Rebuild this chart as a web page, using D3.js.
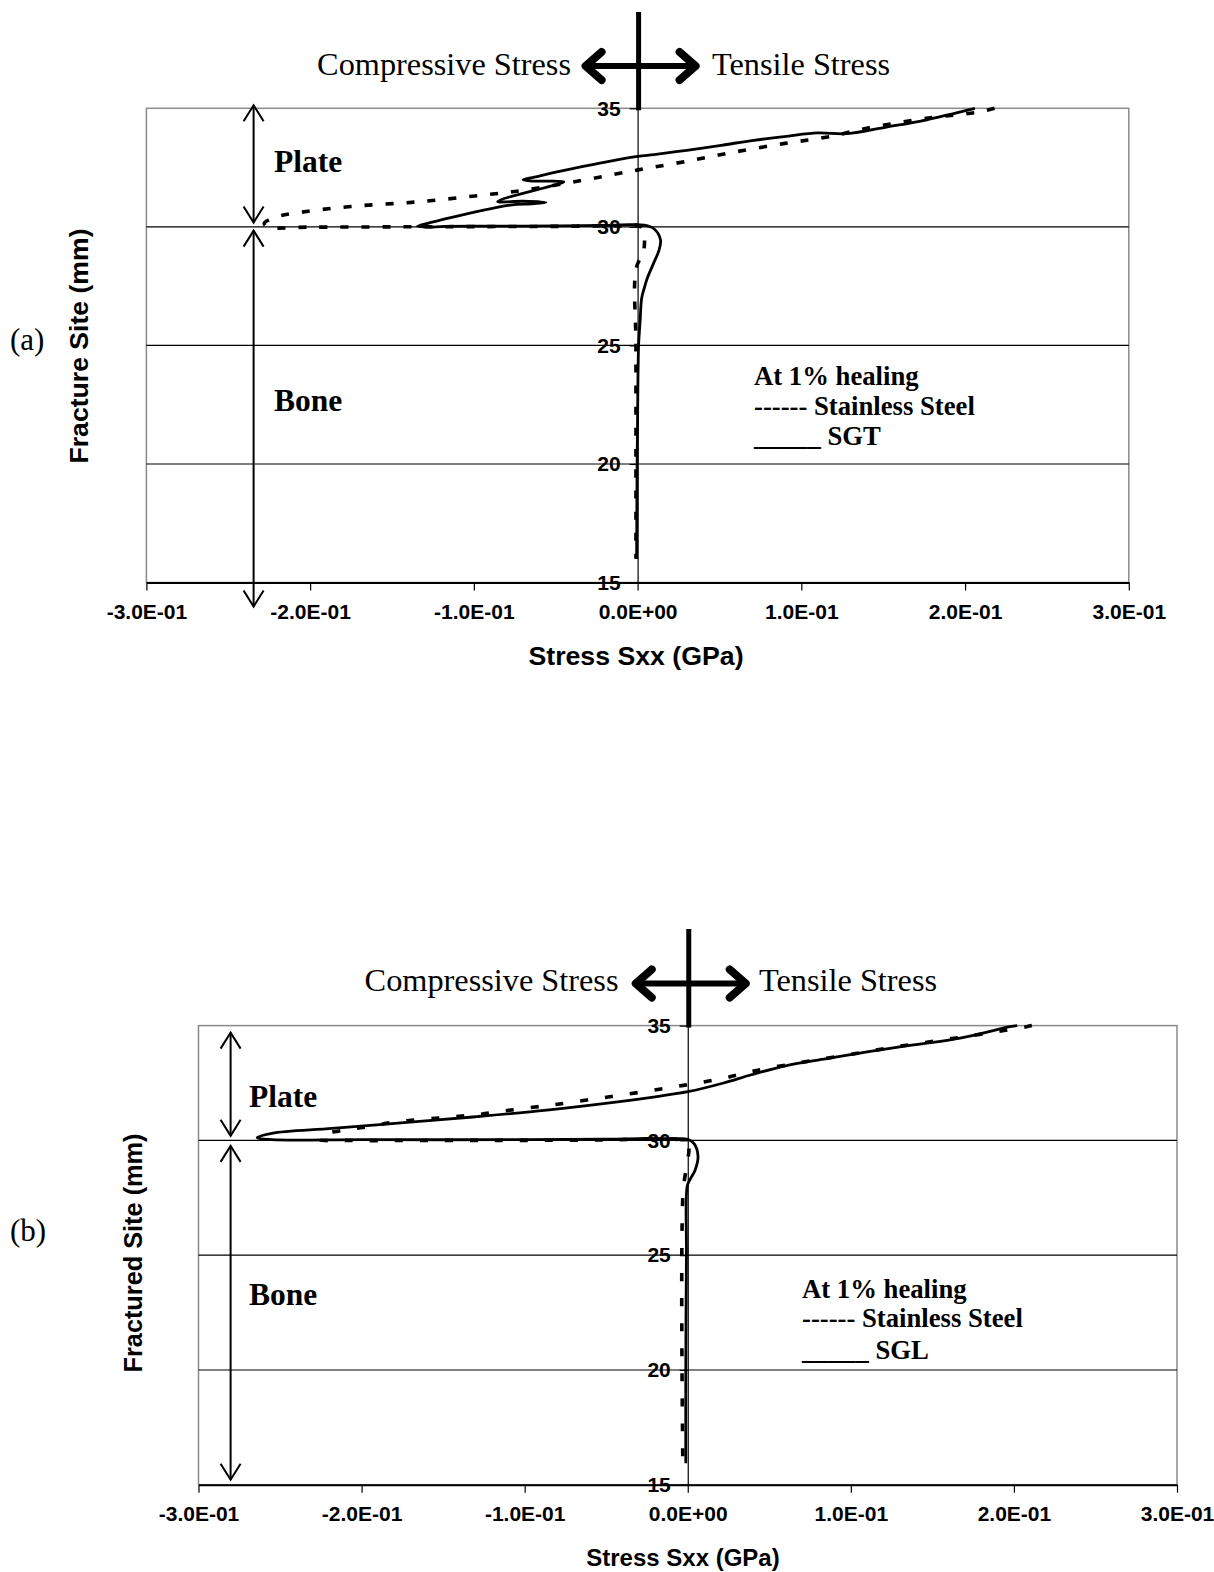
<!DOCTYPE html>
<html><head><meta charset="utf-8">
<script src="https://cdn.jsdelivr.net/npm/d3@7"></script>
<style>body{margin:0;background:#fff}svg{display:block}</style>
</head><body>
<svg id="c" width="1214" height="1572"></svg>
<script>
// ---------- data ----------
const xTicks = [-0.3, -0.2, -0.1, 0, 0.1, 0.2, 0.3];
const xTickLabels = ["-3.0E-01","-2.0E-01","-1.0E-01","0.0E+00","1.0E-01","2.0E-01","3.0E-01"];
const yTicks = [15, 20, 25, 30, 35];
const gridValues = [20, 25, 30];

// panel (a): [stress Sxx (GPa), fracture site (mm)]
const ssA = [[0.218,35.0],[0.208,34.84],[0.180,34.61],[0.140,34.16],[0.116,33.79],[0.090,33.52],[0.058,33.14],[0.031,32.78],[0.006,32.47],[-0.007,32.31],[-0.034,31.96],[-0.070,31.54],[-0.096,31.33],[-0.135,31.05],[-0.175,30.86],[-0.205,30.62],[-0.221,30.41],[-0.228,30.15],[-0.226,30.0],[-0.200,29.99],[-0.150,30.0],[-0.100,30.01],[-0.050,30.02],[-0.010,30.04],[0.002,30.0],[0.004,29.1],[-0.001,28.2],[-0.001,25.0],[-0.001,20.0],[-0.001,16.0]];
const sgtA = [[0.206,35.0],[0.193,34.78],[0.173,34.46],[0.152,34.21],[0.128,33.93],[0.110,33.96],[0.091,33.82],[0.071,33.65],[0.051,33.44],[0.030,33.23],[0.010,33.05],[0.000,32.97],[-0.023,32.69],[-0.047,32.35],[-0.063,32.10],[-0.070,31.99],[-0.066,31.94],[-0.055,31.93],[-0.045,31.90],[-0.047,31.84],[-0.0855,31.07],[-0.070,31.08],[-0.056,31.03],[-0.065,30.97],[-0.078,30.92],[-0.1325,30.07],[-0.1345,30.02],[-0.128,29.99],[-0.118,30.02],[-0.090,30.03],[-0.050,30.04],[-0.020,30.06],[-0.005,30.09],[0.004,30.07],[0.010,29.92],[0.014,29.45],[0.013,29.0],[0.010,28.5],[0.006,27.85],[0.004,27.4],[0.0025,27.0],[0.0015,26.0],[0.0006,25.0],[0.0,22.0],[-0.0003,20.0],[-0.0006,16.0]];

// panel (b)
const ssB = [[0.211,35.0],[0.2077,34.95],[0.170,34.52],[0.130,34.1],[0.090,33.63],[0.060,33.28],[0.038,32.98],[0.0227,32.72],[0.006,32.5],[-0.010,32.31],[-0.027,32.12],[-0.045,31.93],[-0.062,31.76],[-0.080,31.57],[-0.095,31.44],[-0.113,31.28],[-0.128,31.13],[-0.143,31.03],[-0.1785,30.81],[-0.194,30.62],[-0.210,30.45],[-0.2245,30.23],[-0.226,30.05],[-0.210,30.0],[-0.150,30.0],[-0.100,30.0],[-0.050,30.02],[-0.005,30.03],[0.000,29.9],[-0.003,27.6],[-0.003,15.93]];
const sglB = [[0.202,35.0],[0.1975,34.95],[0.167,34.45],[0.126,34.03],[0.085,33.56],[0.060,33.25],[0.039,32.86],[0.022,32.5],[0.0,32.12],[-0.020,31.9],[-0.043,31.68],[-0.0865,31.32],[-0.130,31.03],[-0.174,30.77],[-0.218,30.52],[-0.255,30.31],[-0.264,30.12],[-0.255,30.03],[-0.200,30.03],[-0.100,30.03],[-0.050,30.05],[-0.030,30.08],[-0.010,30.07],[0.000,30.05],[0.004,29.85],[0.0063,29.3],[0.0045,28.7],[0.0012,28.27],[-0.0004,27.98],[-0.0008,25.0],[-0.0012,20.0],[-0.0012,15.93]];

const legendA = ["At 1% healing", "------ Stainless Steel", "_____ SGT"];
const legendB = ["At 1% healing", "------ Stainless Steel", "_____ SGL"];

// ---------- drawing ----------
const SERIF = "'Liberation Serif','Times New Roman',serif";
const SANS = "'Liberation Sans',Arial,sans-serif";
const svg = d3.select("#c");
svg.append("rect").attr("width",1214).attr("height",1572).attr("fill","#fff");

function panel(o){
  const g = svg.append("g");
  const x = d3.scaleLinear().domain([-0.3,0.3]).range([o.left,o.right]);
  const y = d3.scaleLinear().domain([15,35]).range([o.bottom,o.top]);
  const x0 = x(0);

  // border
  g.append("rect").attr("x",o.left).attr("y",o.top)
    .attr("width",o.right-o.left).attr("height",o.bottom-o.top)
    .attr("fill","none").attr("stroke","#8a8a8a").attr("stroke-width",1.5);
  // gridlines
  g.selectAll(".grid").data(gridValues).join("line")
    .attr("x1",o.left).attr("x2",o.right)
    .attr("y1",d=>y(d)).attr("y2",d=>y(d))
    .attr("stroke","#000").attr("stroke-width",1.1);

  // x axis
  const xa = d3.axisBottom(x).tickValues(xTicks).tickSize(8).tickSizeOuter(0)
    .tickPadding(o.xPad).tickFormat((d,i)=>xTickLabels[i]);
  const gx = g.append("g").attr("transform",`translate(0,${o.bottom})`).call(xa);
  gx.select(".domain").attr("stroke","#000").attr("stroke-width",2);
  gx.selectAll(".tick line").attr("stroke","#000").attr("stroke-width",1.2);
  gx.selectAll("text").attr("font-family",SANS).attr("font-weight","bold")
    .attr("font-size",21).attr("fill","#000");

  // y axis at x = 0
  const ya = d3.axisLeft(y).tickValues(yTicks).tickSize(8).tickSizeOuter(0)
    .tickPadding(9).tickFormat(d3.format("d"));
  const gy = g.append("g").attr("transform",`translate(${x0},0)`).call(ya);
  gy.select(".domain").attr("stroke","#000").attr("stroke-width",1.2);
  gy.selectAll(".tick line").attr("stroke","#000").attr("stroke-width",1.2);
  gy.selectAll("text").attr("font-family",SANS).attr("font-weight","bold")
    .attr("font-size",21).attr("fill","#000");

  // data lines
  const line = d3.line().x(d=>x(d[0])).y(d=>y(d[1])).curve(d3.curveCatmullRom.alpha(0.5));
  g.append("path").datum(o.ss).attr("d",line).attr("fill","none")
    .attr("stroke","#000").attr("stroke-width",3.6).attr("stroke-dasharray",o.dash);
  g.append("path").datum(o.solid).attr("d",line).attr("fill","none")
    .attr("stroke","#000").attr("stroke-width",2.8).attr("stroke-linejoin","round");

  // thick vertical marker above the plot
  g.append("line").attr("x1",x0+1).attr("x2",x0+1).attr("y1",o.markTop).attr("y2",o.top+2)
    .attr("stroke","#000").attr("stroke-width",5);
  // compressive / tensile double arrow
  const ay = o.arrowY;
  g.append("line").attr("x1",x0-50).attr("x2",x0+56).attr("y1",ay).attr("y2",ay)
    .attr("stroke","#000").attr("stroke-width",6);
  g.append("path").attr("d",`M${x0-36},${ay-14}L${x0-52},${ay}L${x0-36},${ay+14}`)
    .attr("fill","none").attr("stroke","#000").attr("stroke-width",8)
    .attr("stroke-linecap","round").attr("stroke-linejoin","round");
  g.append("path").attr("d",`M${x0+42},${ay-14}L${x0+58},${ay}L${x0+42},${ay+14}`)
    .attr("fill","none").attr("stroke","#000").attr("stroke-width",8)
    .attr("stroke-linecap","round").attr("stroke-linejoin","round");
  g.append("text").attr("x",o.compEnd).attr("y",o.textBase).attr("text-anchor","end")
    .attr("font-family",SERIF).attr("font-size",32.3).text("Compressive Stress");
  g.append("text").attr("x",o.tensStart).attr("y",o.textBase)
    .attr("font-family",SERIF).attr("font-size",32.3).text("Tensile Stress");

  // region arrows (Plate / Bone)
  function vArrow(xx, y1, y2){
    g.append("line").attr("x1",xx).attr("x2",xx).attr("y1",y1).attr("y2",y2)
      .attr("stroke","#000").attr("stroke-width",2);
    g.append("path").attr("d",`M${xx-10},${y1+16}L${xx},${y1}L${xx+10},${y1+16}M${xx-10},${y2-16}L${xx},${y2}L${xx+10},${y2-16}`)
      .attr("fill","none").attr("stroke","#000").attr("stroke-width",2);
  }
  vArrow(o.arrX, o.plateArr[0], o.plateArr[1]);
  vArrow(o.arrX, o.boneArr[0], o.boneArr[1]);
  g.append("text").attr("x",o.lblX).attr("y",o.plateBase).attr("font-family",SERIF)
    .attr("font-weight","bold").attr("font-size",31.5).text("Plate");
  g.append("text").attr("x",o.lblX).attr("y",o.boneBase).attr("font-family",SERIF)
    .attr("font-weight","bold").attr("font-size",31.5).text("Bone");

  // legend text
  g.selectAll(".leg").data(o.legend).join("text")
    .attr("x",o.legX).attr("y",(d,i)=>o.legBase[i])
    .attr("font-family",SERIF).attr("font-weight","bold").attr("font-size",26.7)
    .attr("xml:space","preserve").text(d=>d);

  // titles
  g.append("text").attr("x",o.xTitleX).attr("y",o.xTitleBase).attr("text-anchor","middle")
    .attr("font-family",SANS).attr("font-weight","bold").attr("font-size",o.xTitleSize).text("Stress Sxx (GPa)");
  g.append("text").attr("transform",`translate(${o.yTitleX},${o.yTitleY}) rotate(-90)`)
    .attr("text-anchor","middle").attr("dy","0.35em")
    .attr("font-family",SANS).attr("font-weight","bold").attr("font-size",o.yTitleSize).text(o.yTitle);
  g.append("text").attr("x",10).attr("y",o.panelBase).attr("font-family",SERIF)
    .attr("font-size",31).text(o.panelLabel);
}

panel({left:146.4,right:1128.8,top:108.3,bottom:582.5,xPad:14,
  ss:ssA,solid:sgtA,dash:"8,13",
  markTop:12,arrowY:66,compEnd:571,tensStart:712,textBase:75,
  arrX:253.6,plateArr:[105.3,222.5],boneArr:[230.6,606.5],
  lblX:274,plateBase:172,boneBase:411,
  legend:legendA,legX:754,legBase:[385,415,445],
  xTitleX:636,xTitleBase:665,xTitleSize:26.7,
  yTitle:"Fracture Site (mm)",yTitleX:79,yTitleY:346,yTitleSize:26.6,
  panelLabel:"(a)",panelBase:350});

panel({left:198.5,right:1177,top:1025.6,bottom:1484.7,xPad:13,
  ss:ssB,solid:sglB,dash:"8,17",
  markTop:929,arrowY:983.5,compEnd:618.5,tensStart:759,textBase:991,
  arrX:230.6,plateArr:[1032.6,1135.8],boneArr:[1145.9,1479.7],
  lblX:249,plateBase:1107,boneBase:1305,
  legend:legendB,legX:802,legBase:[1298,1327,1359],
  xTitleX:683,xTitleBase:1566,xTitleSize:24,
  yTitle:"Fractured Site (mm)",yTitleX:133,yTitleY:1253,yTitleSize:25.3,
  panelLabel:"(b)",panelBase:1241});
</script>
</body></html>
